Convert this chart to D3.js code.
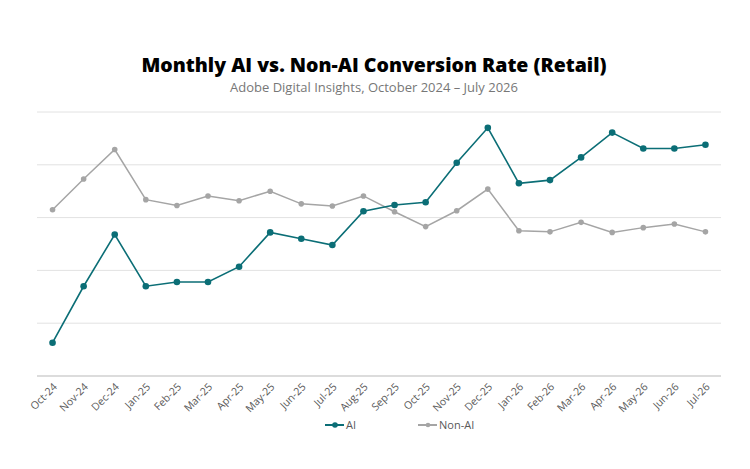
<!DOCTYPE html>
<html>
<head>
<meta charset="utf-8">
<script src="https://cdn.jsdelivr.net/npm/d3@7"></script>
<style>
  body { margin: 0; background: #fff; }
  text { font-family: "Open Sans", sans-serif; }
</style>
</head>
<body>
<div id="chart"></div>
<script>
// months on the x axis
var months = ["Oct-24","Nov-24","Dec-24","Jan-25","Feb-25","Mar-25","Apr-25","May-25","Jun-25","Jul-25","Aug-25","Sep-25",
              "Oct-25","Nov-25","Dec-25","Jan-26","Feb-26","Mar-26","Apr-26","May-26","Jun-26","Jul-26"];

// values (no y labels shown, units = gridline steps)
var aiValues = [0.63,1.70,2.68,1.70,1.78,1.78,2.07,2.72,2.60,2.48,3.12,3.24,
                3.29,4.04,4.70,3.65,3.71,4.14,4.61,4.31,4.31,4.38];
var nonAiValues = [3.15,3.73,4.29,3.34,3.23,3.41,3.32,3.50,3.26,3.22,3.41,3.11,
                   2.83,3.13,3.54,2.75,2.73,2.91,2.72,2.81,2.88,2.73];

var gridTicks = [0,1,2,3,4,5];

var W = 750, H = 469;
var margin = {left: 37, right: 29, top: 112, bottom: 93};

var svg = d3.select("#chart").append("svg")
    .attr("width", W)
    .attr("height", H);

var x = d3.scalePoint()
    .domain(months)
    .range([margin.left, W - margin.right])
    .padding(0.5);

var y = d3.scaleLinear()
    .domain([0, 5])
    .range([H - margin.bottom, margin.top]);

// title
svg.append("text")
    .attr("x", 374).attr("y", 72)
    .attr("text-anchor", "middle")
    .style("font-size", "19.5px")
    .style("font-weight", "800")
    .attr("fill", "#000")
    .text("Monthly AI vs. Non-AI Conversion Rate (Retail)");

svg.append("text")
    .attr("x", 374).attr("y", 92)
    .attr("text-anchor", "middle")
    .style("font-size", "13px")
    .attr("fill", "#777")
    .text("Adobe Digital Insights, October 2024 \u2013 July 2026");

// gridlines
svg.append("g")
    .selectAll("line")
    .data(gridTicks)
    .enter()
    .append("line")
    .attr("x1", margin.left)
    .attr("x2", W - margin.right)
    .attr("y1", function(d) { return y(d); })
    .attr("y2", function(d) { return y(d); })
    .attr("stroke", function(d) { return d === 0 ? "#d0d0d0" : "#e2e2e2"; })
    .attr("stroke-width", function(d) { return d === 0 ? 1.5 : 1; });

// x axis labels
var xAxis = svg.append("g")
    .attr("transform", "translate(0," + y(0) + ")")
    .call(d3.axisBottom(x).tickSize(0).tickPadding(0));
xAxis.select(".domain").remove();
xAxis.selectAll("text")
    .attr("transform", "translate(2,9) rotate(-45)")
    .attr("text-anchor", "end")
    .attr("dy", "0.35em")
    .attr("dx", "0")
    .attr("y", 0)
    .style("font-size", "10.5px")
    .style("font-family", "Open Sans, sans-serif")
    .attr("fill", "#595959");

var series = [
    {name: "AI", values: aiValues, color: "#0b6e76", r: 3.3, width: 1.6},
    {name: "Non-AI", values: nonAiValues, color: "#a5a5a5", r: 2.8, width: 1.5}
];

var line = d3.line()
    .x(function(d, i) { return x(months[i]); })
    .y(function(d) { return y(d); });

// draw non-AI first so AI sits on top
series.slice().reverse().forEach(function(s) {
    svg.append("path")
        .datum(s.values)
        .attr("fill", "none")
        .attr("stroke", s.color)
        .attr("stroke-width", s.width)
        .attr("d", line);
    svg.selectAll("circle.p" + s.name)
        .data(s.values)
        .enter()
        .append("circle")
        .attr("cx", function(d, i) { return x(months[i]); })
        .attr("cy", function(d) { return y(d); })
        .attr("r", s.r)
        .attr("fill", s.color);
});

// legend
var legend = svg.append("g").attr("transform", "translate(0,425)");
var legendX = [325, 418];
series.forEach(function(s, i) {
    var g = legend.append("g").attr("transform", "translate(" + legendX[i] + ",0)");
    g.append("line").attr("x1", 0).attr("x2", 19).attr("y1", 0).attr("y2", 0)
        .attr("stroke", s.color).attr("stroke-width", 2);
    g.append("circle").attr("cx", 10).attr("cy", 0).attr("r", s.r - 0.5).attr("fill", s.color);
    g.append("text").attr("x", 21).attr("y", 0).attr("dy", "0.35em")
        .style("font-size", "11px")
        .attr("fill", "#595959")
        .text(s.name);
});
</script>
</body>
</html>
